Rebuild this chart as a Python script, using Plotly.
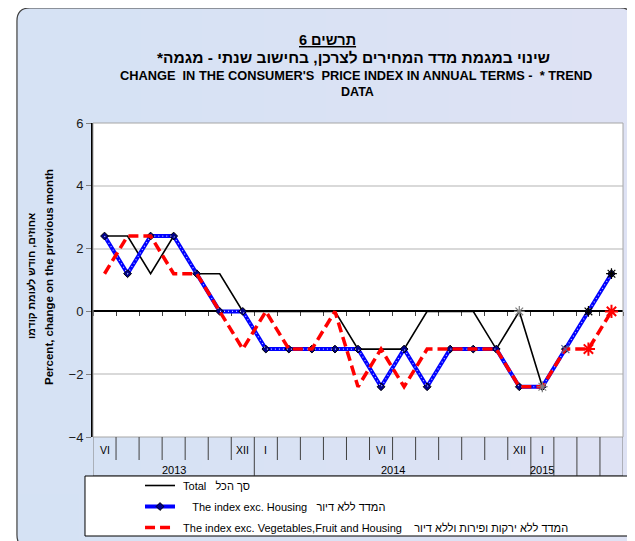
import plotly.graph_objects as go

# ---------------- data ----------------
months_shown = ['VI', '', '', '', '', '', 'XII', 'I', '', '', '', '', 'VI',
                '', '', '', '', '', 'XII', 'I', '', '', '']
year_labels = ['2013', '2014', '2015', '', '', '']
year_sizes = [7, 12, 1, 1, 1, 1]

total = [2.4, 2.4, 1.2, 2.4, 1.2, 1.2, 0, 0, 0, 0, 0, -1.2, -1.2, -1.2,
         0, 0, 0, -1.2, 0, -2.4, -1.2, 0, 1.2]
exc_housing = [2.4, 1.2, 2.4, 2.4, 1.2, 0, 0, -1.2, -1.2, -1.2, -1.2, -1.2,
               -2.4, -1.2, -2.4, -1.2, -1.2, -1.2, -2.4, -2.4, -1.2, 0, 1.2]
exc_veg = [1.2, 2.4, 2.4, 1.2, 1.2, 0, -1.2, 0, -1.2, -1.2, 0, -2.4,
           -1.2, -2.4, -1.2, -1.2, -1.2, -1.2, -2.4, -2.4, -1.2, -1.2, 0]

name_total = '\u00a0Total\u00a0\u00a0\u00a0סך הכל'
name_housing = '\u00a0\u00a0\u00a0\u00a0The index exc. Housing\u00a0\u00a0\u00a0המדד ללא דיור'
name_veg = '\u00a0The index exc. Vegetables,Fruit and Housing\u00a0\u00a0\u00a0\u00a0המדד ללא ירקות ופירות וללא דיור'

y_range = [-4, 6]

# ---------------- geometry helpers (page pixels -> paper) ----------------
OFF = 8                      # page body margin
W, H = 635 - OFF, 541 - OFF  # figure size
PL, PT, PR, PB = 93, 123, 622.7, 437   # plot area in page pixels
ML = PL - OFF
MT = PT - OFF
MR = W - (PR - OFF)
MB = H - (PB - OFF)
PW = PR - PL
PH = PB - PT


def xp(px):
    return (px - PL) / PW


def yp(py):
    return (PB - py) / PH


def P(px, py):
    return f"{xp(px):.5f},{yp(py):.5f}"


FONT = "Liberation Sans, Arial, sans-serif"
n = len(total)
x = list(range(n))

fig = go.Figure()
fig.add_trace(go.Scatter(x=x, y=total, mode='lines', name=name_total, legendgroup='a',
                         line=dict(color='black', width=1.6)))
fig.add_trace(go.Scatter(x=x, y=exc_housing, mode='lines+markers', name=name_housing, legendgroup='b',
                         line=dict(color='#0000ff', width=4),
                         marker=dict(symbol='diamond', size=6, color='#00008a',
                                     line=dict(color='black', width=1))))
fig.add_trace(go.Scatter(x=x, y=exc_housing, mode='lines', showlegend=False, hoverinfo='skip',
                         legendgroup='b',
                         line=dict(color='#c4ccff', width=1.2, dash='1px,3px')))
fig.add_trace(go.Scatter(x=x, y=exc_veg, mode='lines', name=name_veg, legendgroup='c',
                         line=dict(color='#ff0000', width=3.5, dash='10px,5px')))

# special end-point markers
ti = [18, 19, 21, 22]
fig.add_trace(go.Scatter(x=[x[i] for i in ti], y=[total[i] for i in ti], mode='markers',
                         showlegend=False, hoverinfo='skip',
                         marker=dict(symbol='asterisk-open', size=9,
                                     color=['#808080', '#808080', 'black', 'black'],
                                     line=dict(width=1.2))))
bi = [20]
fig.add_trace(go.Scatter(x=[x[i] for i in bi], y=[exc_housing[i] for i in bi], mode='markers',
                         showlegend=False, hoverinfo='skip',
                         marker=dict(symbol='x-thin-open', size=8, color='#5060a0',
                                     line=dict(width=1.2))))
ri = [21, 22]
fig.add_trace(go.Scatter(x=[x[i] for i in ri], y=[exc_veg[i] for i in ri], mode='markers',
                         showlegend=False, hoverinfo='skip',
                         marker=dict(symbol='asterisk-open', size=11, color='#ff0000',
                                     line=dict(width=2))))

zero_pos = (0 - y_range[0]) / (y_range[1] - y_range[0])

L_, T_, R_, B_, r = 17, 8, 633, 548, 13

shapes = []
# soft background gradient (lighter towards top-right)
NSTEP = 10
for k in range(NSTEP):
    xs = L_ + (R_ - L_) * k / NSTEP
    shapes.append(dict(type='rect', xref='paper', yref='paper', x0=xp(xs), x1=xp(R_),
                       y0=yp(B_), y1=yp(T_), fillcolor='white', opacity=0.03,
                       line=dict(width=0), layer='below'))
    ys = B_ - (B_ - T_) * k / NSTEP
    shapes.append(dict(type='rect', xref='paper', yref='paper', x0=xp(L_), x1=xp(R_),
                       y0=yp(ys), y1=yp(T_), fillcolor='white', opacity=0.025,
                       line=dict(width=0), layer='below'))
# plot border
shapes.append(dict(type='rect', xref='paper', yref='paper', x0=0, x1=1, y0=0, y1=1,
                   line=dict(color='#a6a6a6', width=1), layer='above'))
# category table
row1 = yp(460)
row2 = yp(476)
group_bounds = [-0.5]
for s in year_sizes:
    group_bounds.append(group_bounds[-1] + s)
for i in range(n + 1):
    b = i - 0.5
    full = b in group_bounds
    shapes.append(dict(type='line', xref='x', yref='paper', x0=b, x1=b, y0=0,
                       y1=row2 if full else row1,
                       line=dict(color='#7f7f7f' if b in (-0.5, n - 0.5) else '#404040', width=1),
                       layer='above'))
shapes.append(dict(type='line', xref='x', yref='paper', x0=-0.5, x1=n - 0.5, y0=row2, y1=row2,
                   line=dict(color='#7f7f7f', width=1), layer='above'))
# legend box
shapes.append(dict(type='rect', xref='paper', yref='paper', x0=xp(85), x1=xp(629),
                   y0=yp(536), y1=yp(476), fillcolor='white',
                   line=dict(color='black', width=1), layer='above'))
# outside-of-card mask and rounded card border
inner = (f"M{P(L_ + r, T_)} L{P(R_ - r, T_)} Q{P(R_, T_)} {P(R_, T_ + r)} "
         f"L{P(R_, B_ - r)} Q{P(R_, B_)} {P(R_ - r, B_)} L{P(L_ + r, B_)} "
         f"Q{P(L_, B_)} {P(L_, B_ - r)} L{P(L_, T_ + r)} Q{P(L_, T_)} {P(L_ + r, T_)} Z")
outer = f"M{P(-10, -10)} L{P(660, -10)} L{P(660, 580)} L{P(-10, 580)} Z "
shapes.append(dict(type='path', xref='paper', yref='paper', path=outer + inner,
                   fillcolor='white', line=dict(width=0), layer='above'))
shapes.append(dict(type='path', xref='paper', yref='paper', path=inner,
                   line=dict(color='#404040', width=1.2), layer='above'))

ann = []
ann.append(dict(text='<b><u>תרשים 6</u></b>', x=xp(327.5), y=yp(40), font=dict(size=14.5)))
ann.append(dict(text='<b>שינוי במגמת מדד המחירים לצרכן, בחישוב שנתי - מגמה*\u200f</b>',
                x=xp(353), y=yp(57), font=dict(size=15.5)))
ann.append(dict(text="<b>CHANGE\u00a0 IN THE CONSUMER'S\u00a0 PRICE INDEX IN ANNUAL TERMS -\u00a0 * TREND</b>",
                x=xp(356), y=yp(76), font=dict(size=12.8)))
ann.append(dict(text='<b>DATA</b>', x=xp(357), y=yp(92), font=dict(size=12.5)))
ann.append(dict(text='<b>אחוזים, חודש לעומת קודמו</b>', textangle=-90, x=xp(31), y=yp(276),
                font=dict(size=10.5)))
ann.append(dict(text='<b>Percent, change on the previous month</b>', textangle=-90, x=xp(49), y=yp(277),
                font=dict(size=11.5)))
for i, lab in enumerate(months_shown):
    if lab:
        ann.append(dict(text=lab, xref='x', x=x[i], y=yp(450), font=dict(size=10.5)))
for k, lab in enumerate(year_labels):
    if lab:
        c = (group_bounds[k] + group_bounds[k + 1]) / 2
        ann.append(dict(text=lab, xref='x', x=c, y=yp(470), font=dict(size=11)))
for a in ann:
    a.setdefault('xref', 'paper')
    a.setdefault('yref', 'paper')
    a.setdefault('xanchor', 'center')
    a.setdefault('yanchor', 'middle')
    a['showarrow'] = False
    a['font'].setdefault('color', 'black')
    a['font'].setdefault('family', FONT)

fig.update_layout(
    width=W, height=H,
    margin=dict(l=ML, r=MR, t=MT, b=MB, autoexpand=False),
    paper_bgcolor='#d3e2f4', plot_bgcolor='white',
    font=dict(family=FONT, color='black'),
    showlegend=True,
    legend=dict(x=xp(140), y=yp(471), xanchor='left', yanchor='top',
                bgcolor='rgba(0,0,0,0)', borderwidth=0,
                font=dict(size=11, family=FONT, color='black'), tracegroupgap=2),
    xaxis=dict(range=[-0.5, n - 0.5], anchor='free', position=zero_pos,
               tickmode='array', tickvals=[i - 0.5 for i in range(n + 1)],
               ticks='outside', ticklen=4, tickcolor='#404040', tickwidth=1,
               showticklabels=False, showline=True, linecolor='black', linewidth=2,
               showgrid=False, zeroline=False, layer='below traces', fixedrange=True),
    yaxis=dict(range=y_range, dtick=2, tick0=0, ticks='outside', ticklen=5,
               tickcolor='#808080', showline=True, linecolor='black', linewidth=2,
               gridcolor='#d9d9d9', gridwidth=1.5, zeroline=False,
               tickfont=dict(size=13, color='#1a1a1a'), fixedrange=True),
    shapes=shapes,
    annotations=ann,
)

fig.write_html("out.html")
